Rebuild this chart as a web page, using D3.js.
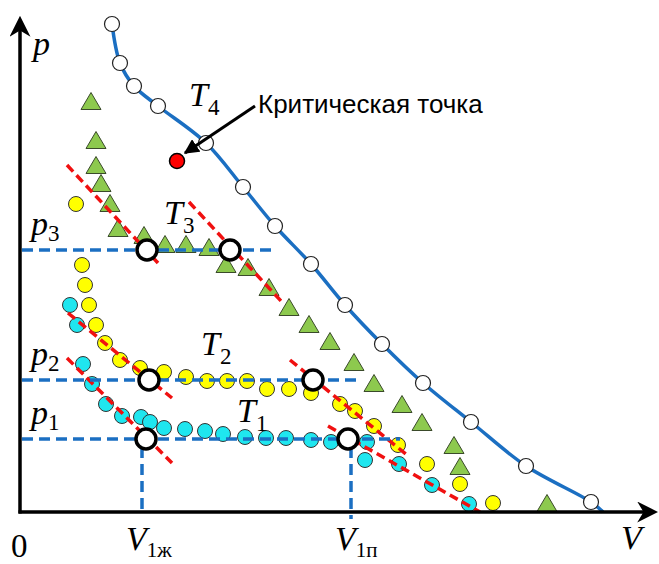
<!DOCTYPE html>
<meta charset="utf-8">
<style>
  html, body { margin: 0; padding: 0; background: #fff; }
  svg { display: block; }
  .lbl { font-family: "Liberation Serif", "Times New Roman", serif; font-style: italic; fill: #000; }
  .num { font-family: "Liberation Serif", "Times New Roman", serif; fill: #000; }
  .note { font-family: "Liberation Sans", Arial, sans-serif; fill: #000; }
</style>
<body>
<div id="chart"></div>
<script src="https://d3js.org/d3.v7.min.js"></script>
<script>
// isotherm T4 (above critical) - [V, p]
var t4Points = [[92,488],[100,449],[114,426],[138,406],[186,369],[223,325],[255,286],[291,248],
  [325,207],[362,168],[403,129],[451,90],[506,46],[571,10]];
var t4LineEnd = [583, 0];
var criticalPoint = [157, 351];

// isotherm T3 - triangles
var t3Points = [[71,411],[76,372],[76,347],[81,329],[90,309],[98,284],[124,277],[145,268],[166,268],
  [189,265],[206,248],[228,245],[249,225],[269,205],[289,188],[310,171],[334,150],[354,129],
  [382,108],[402,90],[434,67],[440,46],[527,9]];

// isotherm T2 - yellow circles
var t2Points = [[56,308],[62,247],[65,227],[69,207],[76,187],[85,169],[100,152],[120,144],[144,140],
  [166,135],[187,131],[207,131],[227,131],[247,123],[269,123],[291,119],[320,108],[335,101],
  [354,86],[378,67],[407,48],[440,28],[473,9]];

// isotherm T1 - cyan circles
var t1Points = [[50,207],[57,187],[63,148],[72,128],[86,108],[102,96],[121,95],[130,90],[144,84],
  [165,83],[185,81],[203,78],[225,75],[246,74],[266,74],[291,72],[311,70],[347,70],[345,52],
  [379,48],[412,27],[449,8]];

// saturation pressures and the dashed line extents
var pLevels = [262, 132, 73];
var pLevelEnds = [255, 342, 380];
var pNames = ["3", "2", "1"];
// phase boundary points [V liquid, V gas] for each level
var phaseV = [[127, 210], [129, 293], [126, 328]];
var vMarks = [122, 331];
var vNames = ["1ж", "1п"];

// tangent lines (red dashed)
var tangents = [
  [[47,347],[138,249]], [[169,310],[262,210]],
  [[48,199],[152,114]], [[270,152],[387,57]],
  [[47,154],[152,49]], [[308,86],[460,0]]
];

// isotherm labels: index, position
var tNames = ["4", "3", "2", "1"];
var tLabelPos = [[169,406], [144,288], [181,157], [217,90]];

var width = 659, height = 564;
var svg = d3.select("#chart").append("svg")
  .attr("width", width).attr("height", height);

var x = d3.scaleLinear().domain([0, 640]).range([20, 660]);
var y = d3.scaleLinear().domain([0, 500]).range([512, 12]);

var blue = "#1b6fc2";

// T4 line + circles
svg.append("path")
  .datum(t4Points.concat([t4LineEnd]))
  .attr("fill", "none")
  .attr("stroke", blue)
  .attr("stroke-width", 3.5)
  .attr("d", d3.line().x(d => x(d[0])).y(d => y(d[1])).curve(d3.curveCatmullRom));

svg.selectAll(".t4").data(t4Points).enter().append("circle")
  .attr("cx", d => x(d[0])).attr("cy", d => y(d[1])).attr("r", 7.5)
  .attr("fill", "#fff").attr("stroke", "#222").attr("stroke-width", 1.2);

// triangles T3
var tw = 20, th = 17;
svg.selectAll(".t3").data(t3Points).enter().append("path")
  .attr("d", function(d) {
    var cx = x(d[0]), cy = y(d[1]);
    return "M" + cx + "," + (cy - th/2) + "L" + (cx + tw/2) + "," + (cy + th/2) +
      "L" + (cx - tw/2) + "," + (cy + th/2) + "Z";
  })
  .attr("fill", "#8dc94e").attr("stroke", "#3a4a2a").attr("stroke-width", 1);

svg.selectAll(".t2").data(t2Points).enter().append("circle")
  .attr("cx", d => x(d[0])).attr("cy", d => y(d[1])).attr("r", 7.5)
  .attr("fill", "#ffff00").attr("stroke", "#333").attr("stroke-width", 1);

svg.selectAll(".t1").data(t1Points).enter().append("circle")
  .attr("cx", d => x(d[0])).attr("cy", d => y(d[1])).attr("r", 7.5)
  .attr("fill", "#1fe6ef").attr("stroke", "#333").attr("stroke-width", 1);

// red tangent lines
svg.selectAll(".tan").data(tangents).enter().append("line")
  .attr("x1", d => x(d[0][0])).attr("y1", d => y(d[0][1]))
  .attr("x2", d => x(d[1][0])).attr("y2", d => y(d[1][1]))
  .attr("stroke", "#f01010").attr("stroke-width", 3.5)
  .attr("stroke-dasharray", "9,5");

// blue dashed pressure levels
svg.selectAll(".plev").data(pLevels).enter().append("line")
  .attr("x1", x(2)).attr("x2", (d, i) => x(pLevelEnds[i]))
  .attr("y1", d => y(d)).attr("y2", d => y(d))
  .attr("stroke", blue).attr("stroke-width", 3.5)
  .attr("stroke-dasharray", "11,6");

// vertical dashed at V1ж, V1п
svg.selectAll(".vlev").data(vMarks).enter().append("line")
  .attr("x1", d => x(d)).attr("x2", d => x(d))
  .attr("y1", y(pLevels[2]) + 8).attr("y2", (d, i) => i == 0 ? y(0) : y(0) + 7)
  .attr("stroke", blue).attr("stroke-width", 3.5)
  .attr("stroke-dasharray", "11,6");

// phase points (big open circles)
var phasePts = [];
phaseV.forEach(function(v, i) {
  phasePts.push([v[0], pLevels[i]]);
  phasePts.push([v[1], pLevels[i]]);
});
svg.selectAll(".ph").data(phasePts).enter().append("circle")
  .attr("cx", d => x(d[0])).attr("cy", d => y(d[1])).attr("r", 10)
  .attr("fill", "#fff").attr("stroke", "#000").attr("stroke-width", 3.5);

// critical point
svg.append("circle")
  .attr("cx", x(criticalPoint[0])).attr("cy", y(criticalPoint[1])).attr("r", 7.5)
  .attr("fill", "#f00").attr("stroke", "#000").attr("stroke-width", 1.5);

// arrow + note
svg.append("defs").append("marker")
  .attr("id", "ah").attr("viewBox", "0 0 10 10").attr("refX", 9).attr("refY", 5)
  .attr("markerWidth", 5).attr("markerHeight", 5).attr("orient", "auto")
  .append("path").attr("d", "M0,0L10,5L0,10Z").attr("fill", "#000");

svg.append("line")
  .attr("x1", 255).attr("y1", 106).attr("x2", x(criticalPoint[0]) + 8).attr("y2", y(criticalPoint[1]) - 8)
  .attr("stroke", "#000").attr("stroke-width", 3).attr("marker-end", "url(#ah)");

svg.append("text").attr("class", "note")
  .attr("x", 258).attr("y", 113).attr("font-size", 26)
  .text("Критическая точка");

// axes
svg.append("defs").append("marker")
  .attr("id", "ax").attr("viewBox", "0 0 10 10").attr("refX", 8).attr("refY", 5)
  .attr("markerWidth", 6).attr("markerHeight", 6).attr("orient", "auto")
  .append("path").attr("d", "M0,0L10,5L0,10L3,5Z").attr("fill", "#000");

svg.append("line")
  .attr("x1", x(0)).attr("y1", y(0) + 1.5).attr("x2", x(0)).attr("y2", 20)
  .attr("stroke", "#000").attr("stroke-width", 3.5).attr("marker-end", "url(#ax)");
svg.append("line")
  .attr("x1", x(0) - 1.5).attr("y1", y(0)).attr("x2", 654).attr("y2", y(0))
  .attr("stroke", "#000").attr("stroke-width", 3.5).attr("marker-end", "url(#ax)");

// labels
svg.append("text").attr("class", "lbl").attr("x", 33).attr("y", 55).attr("font-size", 34).text("p");
svg.append("text").attr("class", "lbl").attr("x", 621).attr("y", 549).attr("font-size", 34).text("V");
svg.append("text").attr("class", "num").attr("x", 11).attr("y", 557).attr("font-size", 33).text("0");

pLevels.forEach(function(p, i) {
  var t = svg.append("text").attr("class", "lbl").attr("font-size", 34)
    .attr("x", 31).attr("y", y(p) - 15).text("p");
  t.append("tspan").attr("font-size", 23).attr("font-style", "normal")
    .attr("dy", 6).text(pNames[i]);
});

vMarks.forEach(function(v, i) {
  var t = svg.append("text").attr("class", "lbl").attr("font-size", 34)
    .attr("x", x(v) - 16).attr("y", 550).text("V");
  t.append("tspan").attr("font-size", 21).attr("font-style", "normal")
    .attr("dy", 7).text(vNames[i]);
});

tLabelPos.forEach(function(pos, i) {
  var t = svg.append("text").attr("class", "lbl").attr("font-size", 34)
    .attr("x", x(pos[0])).attr("y", y(pos[1])).text("T");
  t.append("tspan").attr("font-size", 23).attr("font-style", "normal")
    .attr("dy", 9).text(tNames[i]);
});
</script>
</body>
